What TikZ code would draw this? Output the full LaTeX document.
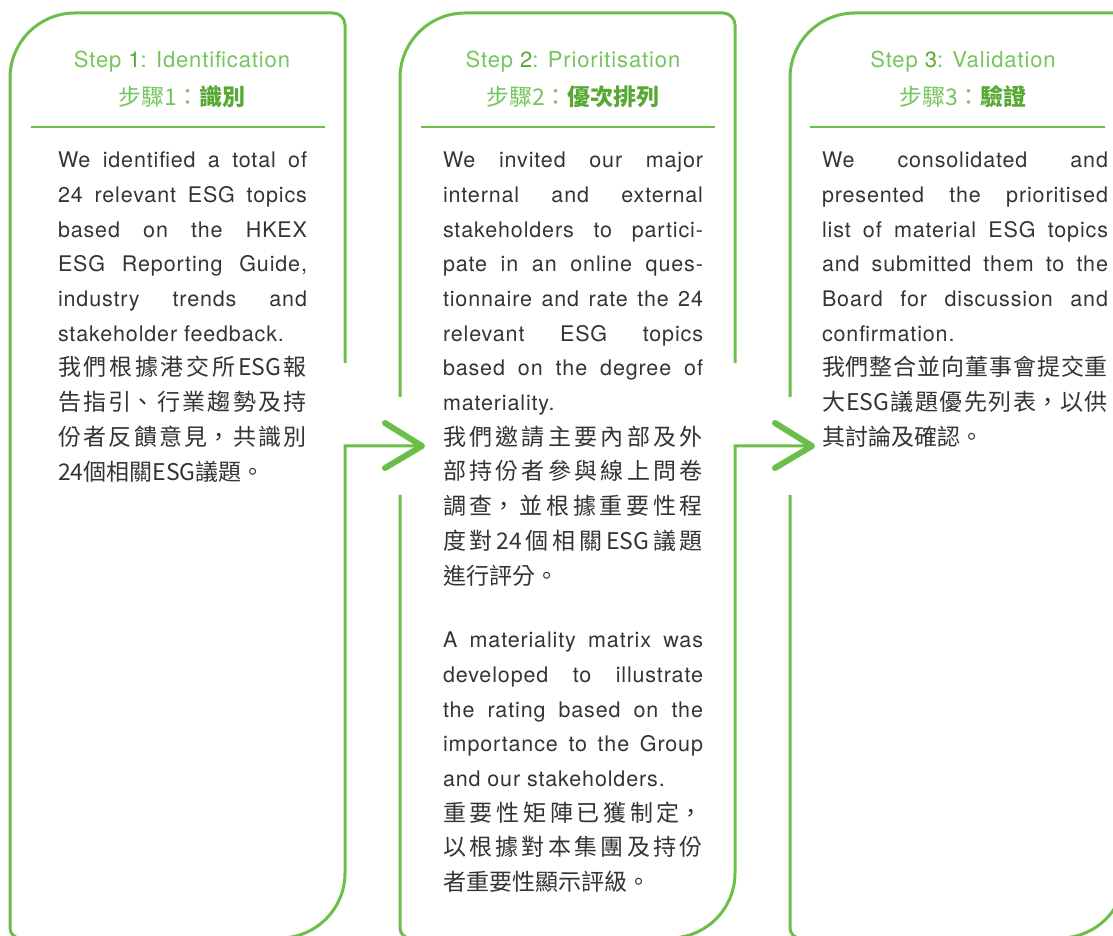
\documentclass[tikz,border=0pt]{standalone}
\usepackage{fontspec}
\setmainfont[LetterSpace=4]{TeX Gyre Heros}
\newfontfamily\cjk{Noto Sans CJK TC}
\usetikzlibrary{calc, positioning}
\XeTeXlinebreaklocale "zh"
\XeTeXlinebreakskip=0pt plus 3pt
\setlength\parindent{0pt}
\hbadness=10000
\hyphenpenalty=10000
\tolerance=10000
\definecolor{stepgreen}{RGB}{108,190,74}
\definecolor{titlegreen}{RGB}{118,196,92}
\definecolor{darkgreen}{RGB}{88,168,52}
\definecolor{bodygray}{RGB}{52,52,52}
\newcommand{\zh}{\cjk\fontsize{23}{34.7}\selectfont}
\tikzset{
	every node/.style={
		inner sep=0pt,
		outer sep=0pt
	},
	panel/.style={
		draw=stepgreen,
		line width=3pt
	},
	chevron/.style={
		draw=stepgreen,
		line width=6pt,
		line cap=round,
		line join=round
	},
	divider/.style={
		draw=stepgreen,
		line width=1.4pt
	},
	steptitle/.style={
		text=titlegreen,
		font=\fontsize{22}{26}\selectfont
	},
	stepsub/.style={
		text=titlegreen,
		font=\cjk\fontsize{23}{26}\selectfont
	},
	bodytext/.style={
		anchor=north west,
		align=justify,
		text=bodygray,
		font=\fontsize{21.5}{34.7}\selectfont
	}
}

\begin{document}
\begin{tikzpicture}[x=1pt,y=1pt]
  \useasboundingbox (0,0) rectangle (1113,935);
  \clip (0,0) rectangle (1113,935);

  % panel outlines
  \draw[panel] (345,572) -- (345,910) arc[start angle=0, end angle=90, radius=12]
        -- (75,922) arc[start angle=90, end angle=180, radius=65]
        -- (10,7) arc[start angle=180, end angle=270, radius=10]
        -- (280,-3) arc[start angle=270, end angle=360, radius=65]
        -- (345,489) -- (420,489);
  \draw[panel] (400,538) -- (400,857) arc[start angle=180, end angle=90, radius=65]
        -- (723,922) arc[start angle=90, end angle=0, radius=12] -- (735,572);
  \draw[panel] (400,440) -- (400,7) arc[start angle=180, end angle=270, radius=10]
        -- (670,-3) arc[start angle=270, end angle=360, radius=65]
        -- (735,489) -- (810,489);
  \draw[panel] (790,538) -- (790,857) arc[start angle=180, end angle=90, radius=65]
        -- (1140,922);
  \draw[panel] (790,440) -- (790,7) arc[start angle=180, end angle=270, radius=10]
        -- (1060,-3) arc[start angle=270, end angle=360, radius=65] -- (1125,400);

  % arrows
  \draw[chevron] (385,512) -- (422,489) -- (385,467);
  \draw[chevron] (775,512) -- (812,489) -- (775,467);

  % headings
  \node[steptitle] (title1) at (182,873) {Step {\color{darkgreen}1}: Identification};
  \node[stepsub]   (sub1)   at (182,838) {步驟1：{\bfseries\color{darkgreen}識別}};
  \node[steptitle] (title2) at (573,873) {Step {\color{darkgreen}2}: Prioritisation};
  \node[stepsub]   (sub2)   at (573,838) {步驟2：{\bfseries\color{darkgreen}優次排列}};
  \node[steptitle] (title3) at (963,873) {Step {\color{darkgreen}3}: Validation};
  \node[stepsub]   (sub3)   at (963,838) {步驟3：{\bfseries\color{darkgreen}驗證}};

  \draw[divider] (31,808) -- (325,808);
  \draw[divider] (421,808) -- (715,808);
  \draw[divider] (810,808) -- (1105,808);

  % texts
  \node[bodytext, text width=249pt] (body1) at (58,783) {We identified a total of\linebreak
    24 relevant ESG topics\linebreak
    based on the HKEX\linebreak
    ESG Reporting Guide,\linebreak
    industry trends and\linebreak
    stakeholder feedback.\par
    {\zh 我們根據港交所ESG報\linebreak
    告指引、行業趨勢及持\linebreak
    份者反饋意見，共識別\linebreak
    24個相關ESG議題。\par}};

  \node[bodytext, text width=260pt] (body2a) at (443,783) {We invited our major\linebreak
    internal and external\linebreak
    stakeholders to partici-\linebreak
    pate in an online ques-\linebreak
    tionnaire and rate the 24\linebreak
    relevant ESG topics\linebreak
    based on the degree of\linebreak
    materiality.\par
    {\zh 我們邀請主要內部及外\linebreak
    部持份者參與線上問卷\linebreak
    調查，並根據重要性程\linebreak
    度對24個相關ESG議題\linebreak
    進行評分。\par}};

  \node[bodytext, text width=260pt] (body2b) at (443,303) {A materiality matrix was\linebreak
    developed to illustrate\linebreak
    the rating based on the\linebreak
    importance to the Group\linebreak
    and our stakeholders.\par
    {\zh 重要性矩陣已獲制定，\linebreak
    以根據對本集團及持份\linebreak
    者重要性顯示評級。\par}};

  \node[bodytext, text width=286pt] (body3) at (822,783) {We consolidated and\linebreak
    presented the prioritised\linebreak
    list of material ESG topics\linebreak
    and submitted them to the\linebreak
    Board for discussion and\linebreak
    confirmation.\par
    {\zh 我們整合並向董事會提交重\linebreak
    大ESG議題優先列表，以供\linebreak
    其討論及確認。\par}};
\end{tikzpicture}
\end{document}
